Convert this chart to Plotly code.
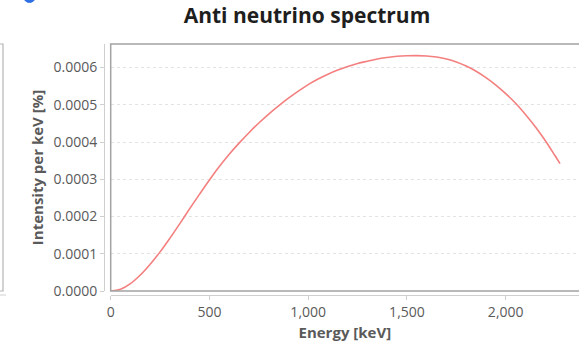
import plotly.graph_objects as go

# Data (energy in keV, intensity per keV in %)
energy_kev = [0, 50, 100, 150, 200, 250, 300, 350, 400, 450, 500, 550, 600, 650, 700,
              750, 800, 850, 900, 950, 1000, 1050, 1100, 1150, 1200, 1250, 1300, 1350,
              1400, 1450, 1500, 1550, 1600, 1650, 1700, 1750, 1800, 1850, 1900, 1950,
              2000, 2050, 2100, 2150, 2200, 2250, 2275]
intensity = [0.0, 0.05e-4, 0.20e-4, 0.43e-4, 0.72e-4, 1.05e-4, 1.42e-4, 1.81e-4, 2.21e-4,
             2.60e-4, 2.98e-4, 3.34e-4, 3.67e-4, 3.97e-4, 4.25e-4, 4.51e-4, 4.75e-4,
             4.97e-4, 5.175e-4, 5.365e-4, 5.54e-4, 5.69e-4, 5.82e-4, 5.93e-4, 6.025e-4,
             6.105e-4, 6.17e-4, 6.23e-4, 6.27e-4, 6.30e-4, 6.315e-4, 6.32e-4, 6.31e-4,
             6.28e-4, 6.23e-4, 6.15e-4, 6.04e-4, 5.90e-4, 5.73e-4, 5.53e-4, 5.30e-4,
             5.04e-4, 4.74e-4, 4.41e-4, 4.04e-4, 3.63e-4, 3.42e-4]

x_ticks = [0, 500, 1000, 1500, 2000]
y_ticks = [0.0, 0.0001, 0.0002, 0.0003, 0.0004, 0.0005, 0.0006]

title_text = "Anti neutrino spectrum"
x_title = "Energy [keV]"
y_title = "Intensity per keV [%]"

W, H = 579, 344
ML, MR, MT, MB = 60, 0, 44, 49
PW, PH = W - ML - MR, H - MT - MB


def px(x):
    return (x - ML) / PW


def py(y):
    return (H - MB - y) / PH


FONT = "Open Sans"
line_col = "#a3a3a3"
axis_col = "#cfcfcf"
tick_font_col = "#5a5a5a"

fig = go.Figure()
fig.add_trace(go.Scatter(
    x=energy_kev, y=intensity, mode="lines",
    line=dict(color="#f47f7f", width=1.6, shape="spline", smoothing=1.0),
    showlegend=False, hoverinfo="skip",
))

box_x0 = px(110.7)
box_y0 = py(291)

fig.update_layout(
    width=W, height=H,
    margin=dict(l=ML, r=MR, t=MT, b=MB, autoexpand=False),
    paper_bgcolor="white", plot_bgcolor="white",
    font=dict(family=FONT, color=tick_font_col, size=14),
    title=dict(text="<b>" + title_text + "</b>", x=307 / W, xref="container",
               xanchor="center", y=1 - 16 / H, yref="container", yanchor="middle",
               font=dict(family=FONT, size=21, color="#1e1e1e")),
    xaxis=dict(
        domain=[box_x0, 1], range=[0, (W - 110.7) / 0.1975],
        anchor="free", position=0,
        tickvals=x_ticks, ticktext=[f"{v:,}" for v in x_ticks],
        ticks="outside", ticklen=4, tickcolor=axis_col, tickwidth=1,
        showline=True, linecolor=axis_col, linewidth=1,
        showgrid=False, zeroline=False,
        tickfont=dict(family=FONT, size=14, color=tick_font_col),
        title=dict(text="<b>" + x_title + "</b>", standoff=7,
                   font=dict(family=FONT, size=15, color="#5a5a5a")),
    ),
    yaxis=dict(
        domain=[box_y0, 1], range=[0, (291 - 44) / 372500],
        anchor="free", position=px(104),
        tickvals=y_ticks, ticktext=[f"{v:.4f}" for v in y_ticks],
        ticks="outside", ticklen=4, tickcolor=axis_col, tickwidth=1,
        showline=True, linecolor=axis_col, linewidth=1,
        showgrid=True, gridcolor="#e3e3e3", griddash="3px,3px", gridwidth=1,
        zeroline=False,
        tickfont=dict(family=FONT, size=14, color=tick_font_col),
        title=dict(text="<b>" + y_title + "</b>", standoff=5,
                   font=dict(family=FONT, size=15, color="#5a5a5a")),
    ),
)

shapes = [
    # main plot box
    dict(type="rect", xref="paper", yref="paper", x0=box_x0, x1=1.05, y0=box_y0, y1=1,
         line=dict(color=line_col, width=1.5), layer="above"),
    # partial neighbouring chart on the left
    dict(type="rect", xref="paper", yref="paper", x0=px(-20), x1=px(3), y0=py(291), y1=py(44),
         line=dict(color="#b5b5b5", width=1.2), layer="above"),
    dict(type="line", xref="paper", yref="paper", x0=px(-20), x1=px(6), y0=py(295), y1=py(295),
         line=dict(color=axis_col, width=1), layer="above"),
    # partial blue control at top-left
    dict(type="circle", xref="paper", yref="paper", x0=px(23.5), x1=px(35.5),
         y0=py(2.5), y1=py(-9.5), fillcolor="#2f6fe3", line=dict(color="#2f6fe3", width=1),
         layer="above"),
]
fig.update_layout(shapes=shapes)

fig.write_html("out.html")
